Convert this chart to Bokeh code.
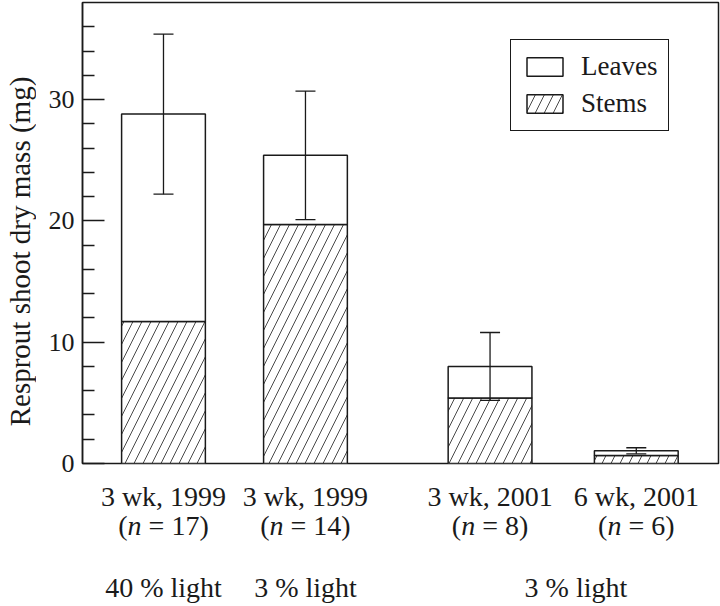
from math import pi
from bokeh.plotting import figure
from bokeh.models import (Range1d, FixedTicker, Whisker, TeeHead, ColumnDataSource,
                          Legend, LegendItem)
from bokeh.layouts import column, row
from bokeh.core.properties import value
from bokeh.embed import file_html
from bokeh.resources import INLINE

# ---------------- data ----------------
groups = ["3 wk, 1999", "3 wk, 1999", "3 wk, 2001", "6 wk, 2001"]
n_values = [17, 14, 8, 6]
stems = [11.7, 19.7, 5.4, 0.65]
leaves = [17.1, 5.7, 2.6, 0.4]
errors = [6.6, 5.3, 2.8, 0.25]
light_labels = ["40 % light", "3 % light", "3 % light"]
y_ticks = [0, 10, 20, 30]
y_minor_ticks = [2, 4, 6, 8, 12, 14, 16, 18, 22, 24, 26, 28, 32, 34, 36]
y_label = "Resprout shoot dry mass (mg)"

# ---------------- layout ----------------
xpos = [1.0, 2.0, 3.3, 4.33]          # bar centres (wider gap before the 2001 bars)
light_x = [xpos[0], xpos[1], (xpos[2] + xpos[3]) / 2 + 0.09]
X0, X1 = 0.4296, 4.909
Y0, Y1 = 0.0, 38.0
BAR_W = 0.59
FONT = "Liberation Serif"
INK = "#1a1a1a"
W_TOTAL, H_TOTAL = 720, 606
W_STRIP = 36                      # strip holding the rotated y label
W = W_TOTAL - W_STRIP
H_TOP = 479
H_BOT = H_TOTAL - H_TOP
LEFT, RIGHT = 46, 2

totals = [s + l for s, l in zip(stems, leaves)]
src = ColumnDataSource(dict(
    x=xpos, stems=stems, total=totals,
    upper=[t + e for t, e in zip(totals, errors)],
    lower=[t - e for t, e in zip(totals, errors)],
))

p = figure(width=W, height=H_TOP, x_range=Range1d(X0, X1), y_range=Range1d(Y0, Y1),
           output_backend="svg", toolbar_location=None, x_axis_location=None,
           min_border_left=LEFT, min_border_right=RIGHT, min_border_top=2, min_border_bottom=16)
p.grid.visible = False
p.outline_line_color = INK
p.outline_line_width = 1.5
p.background_fill_color = "white"
p.border_fill_color = "white"

ax = p.yaxis[0]
ax.ticker = FixedTicker(ticks=y_ticks, minor_ticks=y_minor_ticks)
ax.major_tick_in = 22
ax.major_tick_out = 0
ax.minor_tick_in = 12
ax.minor_tick_out = 0
ax.axis_line_color = INK
ax.axis_line_width = 1.5
ax.major_tick_line_color = INK
ax.major_tick_line_width = 1.3
ax.minor_tick_line_color = INK
ax.minor_tick_line_width = 1.3
ax.major_label_text_font = FONT
ax.major_label_text_font_size = "26px"
ax.major_label_text_color = INK
ax.major_label_standoff = 8

r_stems = p.vbar(x="x", width=BAR_W, bottom=0, top="stems", source=src,
                 fill_color="white", line_color=INK, line_width=1.5,
                 hatch_pattern="/", hatch_scale=18, hatch_weight=0.8, hatch_color=INK)
r_leaves = p.vbar(x="x", width=BAR_W, bottom="stems", top="total", source=src,
                  fill_color="white", line_color=INK, line_width=1.5)

wh = Whisker(source=src, base="x", upper="upper", lower="lower", level="overlay",
             line_color=INK, line_width=1.3,
             upper_head=TeeHead(size=20, line_color=INK, line_width=1.3),
             lower_head=TeeHead(size=20, line_color=INK, line_width=1.3))
p.add_layout(wh)

legend = Legend(items=[LegendItem(label="Leaves", renderers=[r_leaves]),
                       LegendItem(label="Stems", renderers=[r_stems])],
                location=(428, 332), orientation="vertical",
                border_line_color=INK, border_line_width=1.3, border_line_alpha=1,
                background_fill_color="white", background_fill_alpha=1,
                padding=11, spacing=6, margin=0,
                glyph_width=45, glyph_height=23, label_standoff=14, label_height=23,
                label_text_font=FONT, label_text_font_size="27px", label_text_color=INK)
p.add_layout(legend)

def bare(fig):
    fig.grid.visible = False
    fig.outline_line_color = None
    fig.background_fill_color = "white"
    fig.border_fill_color = "white"
    return fig

# ---------------- bottom texts (second figure sharing the x range) ----------------
FS = 28
CW = {"(": 0.333, ")": 0.333, "n": 0.5, " ": 0.25, "=": 0.564}
def width_em(s):
    return sum(CW.get(c, 0.5) for c in s)

ROW1, ROW2, ROW3 = 17, 46, 108    # pixel rows below the top figure (layout)

q = bare(figure(width=W, height=H_BOT, x_range=p.x_range, y_range=Range1d(H_BOT, 0),
                output_backend="svg", toolbar_location=None,
                x_axis_location=None, y_axis_location=None,
                min_border_left=LEFT, min_border_right=RIGHT,
                min_border_top=0, min_border_bottom=0))

common = dict(text_font=value(FONT), text_font_size=f"{FS}px", text_color=INK,
              text_baseline="middle")
q.text(x=xpos, y=[ROW1] * len(xpos), text=groups, text_align="center", **common)

open_off, n_off, rest_off, rest_txt = [], [], [], []
for n in n_values:
    parts = ["(", "n", " ", f"= {n})"]
    tw = sum(width_em(t) for t in parts) * FS
    o = -tw / 2
    open_off.append(o)
    o += width_em("(") * FS
    n_off.append(o)
    o += width_em("n ") * FS
    rest_off.append(o)
    rest_txt.append(parts[3])
q.text(x=xpos, y=[ROW2] * len(xpos), text=["("] * len(xpos), x_offset=open_off,
       text_align="left", **common)
q.text(x=xpos, y=[ROW2] * len(xpos), text=["n"] * len(xpos), x_offset=n_off,
       text_align="left", text_font_style="italic", **common)
q.text(x=xpos, y=[ROW2] * len(xpos), text=rest_txt, x_offset=rest_off,
       text_align="left", **common)

q.text(x=light_x, y=[ROW3] * len(light_x), text=light_labels, text_align="center", **common)

# ---------------- y-axis title strip ----------------
s = bare(figure(width=W_STRIP, height=H_TOTAL, x_range=Range1d(0, W_STRIP),
                y_range=Range1d(H_TOTAL, 0), output_backend="svg", toolbar_location=None,
                x_axis_location=None, y_axis_location=None,
                min_border_left=0, min_border_right=0, min_border_top=0, min_border_bottom=0))
s.text(x=[19], y=[251], text=[y_label], angle=pi / 2, text_align="center",
       text_baseline="middle", text_font=value(FONT), text_font_size="29px", text_color=INK)

layout = row(s, column(p, q, spacing=0), spacing=0)
open("out.html", "w").write(file_html(layout, INLINE))
